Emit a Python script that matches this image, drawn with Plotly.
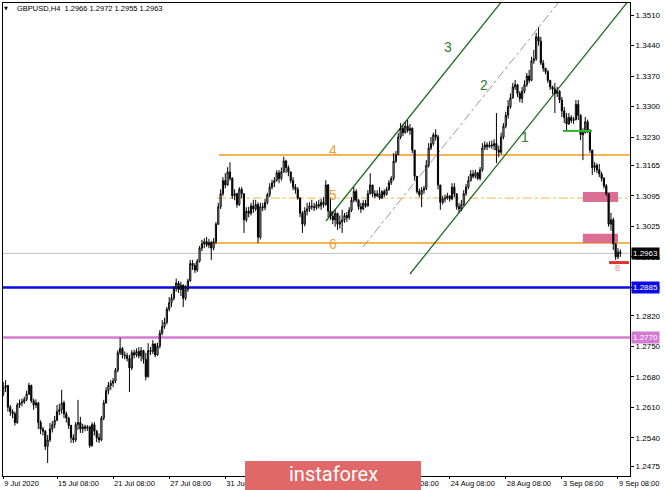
import plotly.graph_objects as go

# ---- data (prices in pips above 1.0000, e.g. 2655 -> 1.2655), one value per H4 bar ----
open_pips = [2640,2655,2660,2610,2600,2595,2575,2615,2620,2622,2628,2640,2660,2625,2615,2620,2575,2560,2555,2520,
2535,2560,2570,2580,2600,2605,2620,2595,2585,2568,2540,2535,2570,2575,2560,2565,2562,2565,2522,2570,
2555,2540,2535,2585,2620,2648,2660,2665,2670,2695,2735,2745,2730,2728,2722,2700,2735,2730,2738,2728,
2740,2720,2680,2740,2738,2755,2730,2750,2780,2795,2805,2835,2850,2860,2882,2895,2880,2890,2860,2880,
2900,2940,2935,2925,2945,2975,2985,2990,2982,2988,2975,2990,3030,3070,3100,3130,3120,3150,3135,3095,
3100,3075,3110,3100,3040,3060,3055,3072,3065,3075,3000,3070,3068,3080,3098,3115,3125,3130,3148,3135,
3150,3175,3160,3150,3130,3115,3110,3090,3055,3030,3060,3065,3072,3070,3068,3075,3072,3080,3075,3120,
3060,3048,3040,3055,3030,3035,3040,3050,3045,3062,3085,3105,3085,3070,3065,3078,3072,3100,3120,3100,
3095,3100,3090,3105,3098,3110,3125,3135,3175,3190,3230,3250,3240,3255,3245,3250,3200,3140,3105,3098,
3108,3112,3165,3205,3215,3235,3230,3120,3080,3088,3090,3095,3088,3115,3100,3070,3065,3075,3100,3115,
3130,3145,3140,3148,3135,3155,3205,3212,3208,3212,3210,3215,3200,3195,3230,3255,3280,3300,3320,3345,
3350,3330,3318,3335,3350,3370,3360,3405,3410,3460,3450,3400,3388,3380,3360,3345,3340,3330,3335,3315,
3290,3275,3260,3275,3268,3270,3305,3280,3235,3240,3265,3245,3200,3160,3165,3155,3145,3135,3118,3100,
3030,3040,2985,2955,2966]
high_pips = [2668,2672,2660,2615,2605,2600,2620,2628,2630,2634,2648,2666,2662,2630,2628,2622,2580,2565,2558,2546,
2574,2578,2590,2615,2618,2650,2625,2600,2588,2570,2548,2576,2627,2588,2572,2570,2569,2568,2575,2576,
2558,2550,2590,2627,2656,2668,2672,2677,2700,2741,2769,2748,2738,2735,2730,2741,2742,2745,2748,2748,
2742,2735,2757,2748,2764,2757,2758,2787,2810,2815,2840,2863,2870,2888,2905,2900,2898,2892,2890,2905,
2948,2948,2941,2950,2980,2994,2998,3001,2996,2992,2998,3035,3079,3110,3138,3147,3161,3172,3138,3110,
3102,3115,3115,3100,3069,3070,3079,3086,3086,3080,3079,3079,3088,3102,3124,3132,3138,3154,3154,3160,
3185,3178,3165,3150,3138,3122,3115,3092,3060,3069,3079,3080,3086,3079,3082,3086,3088,3092,3131,3122,
3092,3060,3063,3056,3050,3063,3056,3058,3069,3092,3115,3110,3088,3079,3085,3086,3108,3147,3120,3108,
3108,3115,3108,3110,3115,3131,3140,3193,3198,3239,3262,3258,3265,3269,3260,3252,3200,3140,3112,3115,
3118,3177,3216,3230,3240,3248,3235,3120,3095,3098,3102,3095,3124,3124,3100,3079,3085,3108,3122,3140,
3154,3154,3155,3150,3161,3216,3220,3218,3220,3222,3225,3285,3210,3240,3262,3288,3315,3330,3354,3361,
3352,3335,3345,3360,3377,3384,3414,3430,3469,3482,3460,3407,3388,3384,3361,3348,3354,3345,3338,3322,
3299,3285,3285,3280,3276,3315,3315,3282,3250,3276,3270,3248,3200,3173,3170,3168,3150,3138,3122,3100,
3056,3045,2985,2975,2972]
low_pips = [2635,2645,2600,2590,2585,2568,2572,2608,2612,2618,2624,2638,2620,2604,2608,2560,2548,2545,2512,2482,
2530,2552,2562,2578,2592,2595,2585,2575,2560,2528,2528,2530,2558,2551,2551,2555,2556,2517,2519,2545,
2530,2528,2532,2580,2618,2640,2650,2656,2665,2690,2730,2722,2720,2715,2645,2695,2722,2725,2722,2715,
2710,2672,2678,2730,2732,2725,2728,2745,2775,2790,2800,2830,2840,2855,2875,2872,2865,2840,2855,2875,
2898,2925,2918,2920,2942,2968,2975,2978,2975,2948,2970,2985,3028,3065,3095,3112,3118,3130,3088,3085,
3068,3072,3090,3010,3035,3046,3050,3056,3060,2987,2995,3060,3062,3075,3092,3110,3115,3128,3124,3130,
3148,3147,3140,3124,3108,3100,3086,3046,3010,3025,3050,3058,3063,3060,3063,3066,3063,3068,3072,3046,
3040,3030,3024,3017,3020,3010,3033,3035,3040,3058,3080,3080,3063,3056,3062,3068,3070,3098,3092,3090,
3092,3086,3088,3092,3096,3106,3120,3130,3170,3188,3225,3232,3238,3240,3235,3193,3130,3100,3092,3069,
3100,3108,3160,3200,3210,3222,3110,3063,3075,3080,3086,3082,3085,3092,3063,3056,3060,3072,3095,3110,
3128,3135,3135,3131,3130,3150,3200,3200,3205,3203,3200,3170,3184,3190,3225,3250,3272,3295,3318,3338,
3322,3310,3308,3330,3345,3354,3358,3398,3405,3440,3395,3380,3374,3354,3338,3328,3285,3322,3308,3276,
3262,3246,3258,3262,3260,3268,3269,3223,3177,3238,3239,3193,3143,3150,3147,3138,3128,3112,3095,3024,
3015,2971,2948,2950,2955]
close_pips = [2655,2660,2610,2600,2595,2575,2615,2620,2622,2628,2640,2660,2625,2615,2620,2575,2560,2555,2520,2535,
2560,2570,2580,2600,2605,2620,2595,2585,2568,2540,2535,2570,2575,2560,2565,2562,2565,2522,2570,2555,
2540,2535,2585,2620,2648,2660,2665,2670,2695,2735,2745,2730,2728,2722,2700,2735,2730,2738,2728,2740,
2720,2680,2740,2738,2755,2730,2750,2780,2795,2805,2835,2850,2860,2882,2895,2880,2890,2860,2880,2900,
2940,2935,2925,2945,2975,2985,2990,2982,2988,2975,2990,3030,3070,3100,3130,3120,3150,3135,3095,3100,
3075,3110,3100,3040,3060,3055,3072,3065,3075,3000,3070,3068,3080,3098,3115,3125,3130,3148,3135,3150,
3175,3160,3150,3130,3115,3110,3090,3055,3030,3060,3065,3072,3070,3068,3075,3072,3080,3075,3120,3060,
3048,3040,3055,3030,3035,3040,3050,3045,3062,3085,3105,3085,3070,3065,3078,3072,3100,3120,3100,3095,
3100,3090,3105,3098,3110,3125,3135,3175,3190,3230,3250,3240,3255,3245,3250,3200,3140,3105,3098,3108,
3112,3165,3205,3215,3235,3230,3120,3080,3088,3090,3095,3088,3115,3100,3070,3065,3075,3100,3115,3130,
3145,3140,3148,3135,3155,3205,3212,3208,3212,3210,3215,3200,3195,3230,3255,3280,3300,3320,3345,3350,
3330,3318,3335,3350,3370,3360,3405,3410,3460,3450,3400,3388,3380,3360,3345,3340,3330,3335,3315,3290,
3275,3260,3275,3268,3270,3305,3280,3235,3240,3265,3245,3200,3160,3165,3155,3145,3135,3118,3100,3030,
3040,2985,2955,2966,2963]

tick_bars = [0, 23, 47, 71, 95, 119, 143, 167, 191, 215, 239, 263]
tick_labels = ["9 Jul 2020", "15 Jul 08:00", "21 Jul 08:00", "27 Jul 08:00", "31 Jul 08:00",
               "6 Aug 08:00", "12 Aug 08:00", "18 Aug 08:00", "24 Aug 08:00", "28 Aug 08:00",
               "3 Sep 08:00", "9 Sep 08:00"]
price_ticks = [1.3510, 1.3440, 1.3370, 1.3300, 1.3230, 1.3165, 1.3095, 1.3025, 1.2955,
               1.2885, 1.2820, 1.2750, 1.2680, 1.2610, 1.2540, 1.2475]

header_text = "GBPUSD,H4  1.2966 1.2972 1.2955 1.2963"

# levels drawn on the chart
level_4, level_5, level_6 = 1.3189, 1.3090, 1.2987
current_price, blue_level, violet_level = 1.2963, 1.2885, 1.2770
green_mark, red_mark = 1.3244, 1.2942
zone_upper = (1.3081, 1.3104)
zone_lower = (1.2987, 1.3008)
channel_upper = [(138.1, 1.30373), (220.6, 1.35903)]
channel_middle = [(153.9, 1.29777), (237.4, 1.35375)]
channel_lower = [(174.0, 1.29157), (268.1, 1.35467)]

def to_price(v):
    return 1 + v / 10000.0

bars = list(range(len(close_pips)))
X0, X1 = -0.1, 268.14
Y0, Y1 = 1.245222, 1.353754

fig = go.Figure(go.Candlestick(
    x=bars,
    open=[to_price(v) for v in open_pips],
    high=[to_price(v) for v in high_pips],
    low=[to_price(v) for v in low_pips],
    close=[to_price(v) for v in close_pips],
    increasing=dict(line=dict(color="#000000", width=1), fillcolor="#ffffff"),
    decreasing=dict(line=dict(color="#000000", width=1), fillcolor="#000000"),
    whiskerwidth=0, hoverinfo="skip", showlegend=False,
))

ORANGE = "#F3B556"
ORANGE_TXT = "#EFA23A"
GREEN = "#1E6E1E"
shapes = []
# orange levels
shapes.append(dict(type="line", xref="x", yref="y", x0=92.3, x1=X1, y0=level_4, y1=level_4,
                   line=dict(color=ORANGE, width=2), layer="below"))
shapes.append(dict(type="line", xref="x", yref="y", x0=91.4, x1=X1, y0=level_5, y1=level_5,
                   line=dict(color=ORANGE, width=1, dash="dashdot"), layer="below"))
shapes.append(dict(type="line", xref="x", yref="y", x0=85.0, x1=X1, y0=level_6, y1=level_6,
                   line=dict(color=ORANGE, width=2), layer="below"))
# full width levels
shapes.append(dict(type="line", xref="paper", yref="y", x0=0, x1=1, y0=current_price, y1=current_price,
                   line=dict(color="#C0C0C0", width=1), layer="below"))
shapes.append(dict(type="line", xref="paper", yref="y", x0=0, x1=1, y0=blue_level, y1=blue_level,
                   line=dict(color="#0A0AE6", width=2.5), layer="below"))
shapes.append(dict(type="line", xref="paper", yref="y", x0=0, x1=1, y0=violet_level, y1=violet_level,
                   line=dict(color="#D57AD3", width=2.5), layer="below"))
# zones
for lo, hi in (zone_upper, zone_lower):
    shapes.append(dict(type="rect", xref="x", yref="y", x0=248.0, x1=263.0, y0=lo, y1=hi,
                       fillcolor="#DC6E96", line=dict(width=0), layer="below"))
# channel
for pts, col, dash in ((channel_upper, GREEN, "solid"), (channel_middle, "#9A9A9A", "dashdot"),
                       (channel_lower, GREEN, "solid")):
    shapes.append(dict(type="line", xref="x", yref="y", x0=pts[0][0], y0=pts[0][1],
                       x1=pts[1][0], y1=pts[1][1], line=dict(color=col, width=1.3 if col == GREEN else 1, dash=dash),
                       layer="below"))
# short marks
shapes.append(dict(type="line", xref="x", yref="y", x0=239.5, x1=251.9, y0=green_mark, y1=green_mark,
                   line=dict(color="#2DB52D", width=2)))
shapes.append(dict(type="line", xref="x", yref="y", x0=259.2, x1=267.7, y0=red_mark, y1=red_mark,
                   line=dict(color="#E03535", width=3)))
# watermark
shapes.append(dict(type="rect", xref="paper", yref="paper", x0=(245 - 3) / 627, x1=(421 - 3) / 627,
                   y0=(476 - 492) / 473, y1=(476 - 461) / 473, fillcolor="#E06868",
                   line=dict(width=0), layer="above"))

ann = []
for txt, yv in (("4", 1.3200), ("5", 1.3097), ("6", 1.29845)):
    ann.append(dict(x=141.1, y=yv, xref="x", yref="y", text=txt, showarrow=False,
                    font=dict(family="Liberation Sans", size=14, color=ORANGE_TXT)))
for txt, xv, yv in (("3", 190.3, 1.34366), ("2", 205.7, 1.33494), ("1", 223.2, 1.3230)):
    ann.append(dict(x=xv, y=yv, xref="x", yref="y", text=txt, showarrow=False,
                    font=dict(family="Liberation Sans", size=14, color="#2F7D2F")))
ann.append(dict(x=263, y=1.29295, xref="x", yref="y", text="8", showarrow=False,
                font=dict(family="Liberation Sans", size=9, color="#F08A8A")))
for txt, yv, bg in (("1.2963", current_price, "#000000"), ("1.2885", blue_level, "#0A0AE6"),
                    ("1.2770", violet_level, "#D57AD3")):
    ann.append(dict(x=1, y=yv, xref="paper", yref="y", text=txt, showarrow=False, xanchor="left",
                    yanchor="middle", xshift=1, bgcolor=bg, borderpad=1,
                    font=dict(family="Liberation Sans", size=8, color="#ffffff")))
ann.append(dict(x=3 / 627, y=1 - 5 / 473, xref="paper", yref="paper", text="▼", showarrow=False,
                xanchor="center", yanchor="middle", font=dict(family="DejaVu Sans", size=5, color="#000000")))
ann.append(dict(x=12 / 627, y=1 - 5 / 473, xref="paper", yref="paper", text=header_text, showarrow=False,
                xanchor="left", yanchor="middle", font=dict(family="Liberation Sans", size=7.5, color="#000000")))
ann.append(dict(x=(333 - 3) / 627, y=(476 - 474) / 473, xref="paper", yref="paper", text="instaforex",
                showarrow=False, xanchor="center", yanchor="middle",
                font=dict(family="Roboto", size=20, color="#ffffff")))

fig.update_layout(
    width=665, height=490,
    margin=dict(l=3, r=35, t=3, b=14, autoexpand=False),
    paper_bgcolor="#ffffff", plot_bgcolor="#ffffff",
    shapes=shapes, annotations=ann, showlegend=False,
    boxgap=0.3,
    xaxis=dict(range=[X0, X1], tickvals=tick_bars, ticktext=tick_labels, showgrid=False, zeroline=False,
               automargin=False,
               rangeslider=dict(visible=False), showline=True, linecolor="#000000", linewidth=1, mirror=True,
               ticks="outside", ticklen=2, tickcolor="#000000", ticklabelposition="outside right",
               tickfont=dict(family="Liberation Sans", size=7.5, color="#000000")),
    yaxis=dict(range=[Y0, Y1], side="right", tickvals=price_ticks, tickformat=".4f", showgrid=False,
               automargin=False,
               zeroline=False, showline=True, linecolor="#000000", linewidth=1, mirror=True,
               ticks="outside", ticklen=3, tickcolor="#000000",
               tickfont=dict(family="Liberation Sans", size=8, color="#000000")),
)

fig.write_html("out.html", config={"displayModeBar": False},
               post_script="document.body.style.margin='0';document.body.style.padding='0';")
